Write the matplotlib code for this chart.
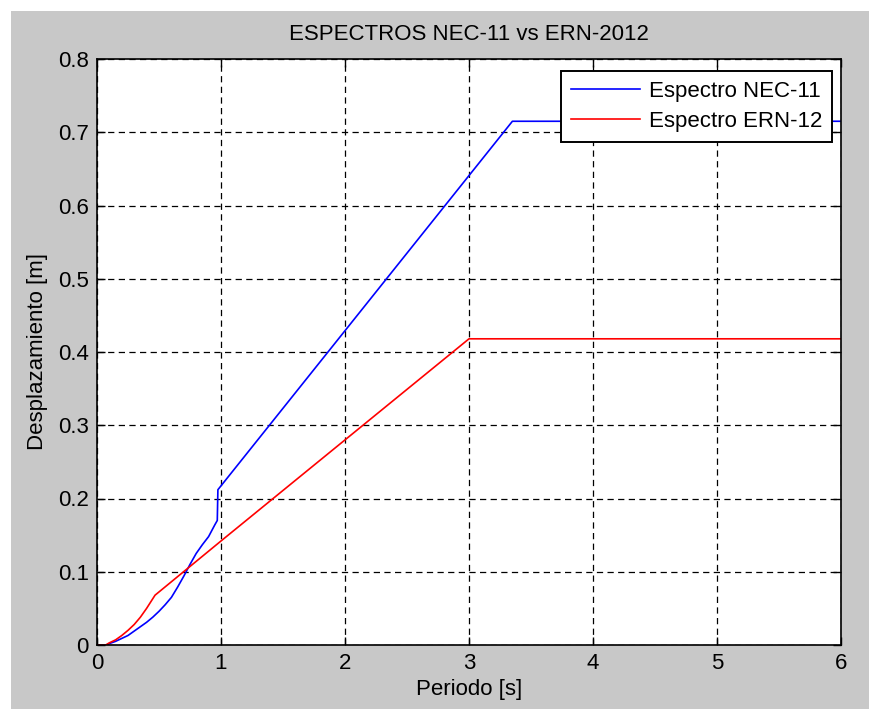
import matplotlib
matplotlib.use("Agg")
import matplotlib.pyplot as plt
from matplotlib.patches import Rectangle

plt.rcParams['font.family'] = ['Liberation Sans', 'DejaVu Sans']

# Data
t_nec = [0.0, 0.08, 0.1, 0.15, 0.2, 0.25, 0.3, 0.35, 0.4, 0.45, 0.5, 0.55, 0.6, 0.65,
         0.7, 0.75, 0.8, 0.85, 0.9, 0.95, 0.97, 0.975, 3.35, 6.0]
sd_nec = [0.0, 0.0, 0.002, 0.005, 0.009, 0.013, 0.019, 0.025, 0.031, 0.038, 0.046, 0.055,
          0.065, 0.079, 0.094, 0.110, 0.125, 0.137, 0.148, 0.164, 0.170, 0.212, 0.715, 0.715]
t_ern = [0.0, 0.07, 0.1, 0.15, 0.2, 0.25, 0.3, 0.35, 0.4, 0.468, 1.0, 3.0, 6.0]
sd_ern = [0.0, 0.0, 0.003, 0.007, 0.013, 0.020, 0.028, 0.038, 0.050, 0.068, 0.142, 0.418, 0.418]
xticks = [0, 1, 2, 3, 4, 5, 6]
yticks = [0, 0.1, 0.2, 0.3, 0.4, 0.5, 0.6, 0.7, 0.8]
ytick_labels = ['0', '0.1', '0.2', '0.3', '0.4', '0.5', '0.6', '0.7', '0.8']

W, H = 870, 709
fig = plt.figure(figsize=(W / 100, H / 100), dpi=100, facecolor='white')
fig.patches.append(Rectangle((11 / W, 0), 1, (H - 11) / H, transform=fig.transFigure,
                             facecolor='#c8c8c8', edgecolor='none', zorder=-10))

ax = fig.add_axes([97 / W, (H - 645) / H, (841 - 97) / W, (645 - 59) / H])
ax.set_facecolor('white')

ax.plot(t_nec, sd_nec, color='#0000ff', lw=1.2, label='Espectro NEC-11')
ax.plot(t_ern, sd_ern, color='#ff0000', lw=1.2, label='Espectro ERN-12')

ax.set_xlim(0, 6)
ax.set_ylim(0, 0.8)
ax.set_xticks(xticks)
ax.set_xticklabels([str(v) for v in xticks])
ax.set_yticks(yticks)
ax.set_yticklabels(ytick_labels)

fs = 16
ax.tick_params(direction='in', length=6, width=1, top=True, right=True,
               labelsize=fs, colors='black', pad=6)
ax.grid(True, color='black', linestyle=(0, (5, 3.5)), linewidth=0.9)
ax.set_axisbelow(True)
for s in ax.spines.values():
    s.set_linewidth(1.2)
    s.set_color('black')

ax.set_title('ESPECTROS NEC-11 vs ERN-2012', fontsize=fs, pad=14)
ax.set_xlabel('Periodo [s]', fontsize=fs, labelpad=3)
ax.set_ylabel('Desplazamiento [m]', fontsize=fs, labelpad=7)

leg = ax.legend(loc='upper right', fontsize=fs, frameon=True, fancybox=False,
                edgecolor='black', framealpha=1, handlelength=3.1,
                handletextpad=0.4, labelspacing=0.4, borderpad=0.45,
                borderaxespad=0,
                bbox_to_anchor=(1 - 9 / 744, 1 - 12 / 586))
leg.get_frame().set_linewidth(1.4)

fig.savefig('out.png', dpi=100, facecolor=fig.get_facecolor())
